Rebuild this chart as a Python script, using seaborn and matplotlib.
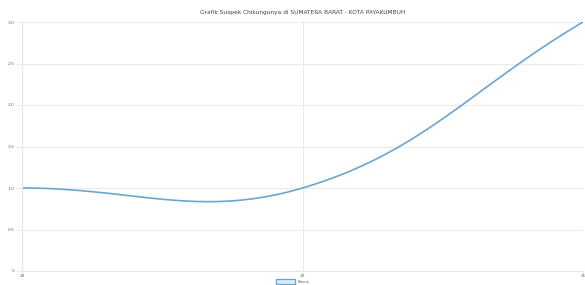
"""
Grafik suspek chikungunya - line chart with smooth (bezier) curve.
"""

import numpy as np
import pandas as pd
import matplotlib
matplotlib.use("Agg")
import matplotlib.pyplot as plt
from matplotlib.patches import Patch
import seaborn as sns

# Data
TITLE = "Grafik Suspek Chikungunya di SUMATERA BARAT - KOTA PAYAKUMBUH"
WEEKS = ["29", "30", "31"]
KASUS = [1, 1, 3]
SERIES = "Kasus"

LINE_COLOR = "#6aa6cf"
GRID_COLOR = "#e6e6e6"
TEXT_COLOR = "#666666"


def smooth_curve(xs, ys, sx, sy, tension=0.4, n=60):
    """
    bezier spline through points like a chart.js tension curve;
    sx, sy scale data units to screen units for distances
    """
    px = np.asarray(xs, float) * sx
    py = np.asarray(ys, float) * sy
    m = len(px)
    cp_prev = np.zeros((m, 2))
    cp_next = np.zeros((m, 2))
    for i in range(m):
        p = np.array([px[max(i - 1, 0)], py[max(i - 1, 0)]])
        c = np.array([px[i], py[i]])
        q = np.array([px[min(i + 1, m - 1)], py[min(i + 1, m - 1)]])
        d01 = np.hypot(*(c - p))
        d12 = np.hypot(*(q - c))
        s01 = d01 / (d01 + d12)
        s12 = d12 / (d01 + d12)
        cp_prev[i] = c - tension * s01 * (q - p)
        cp_next[i] = c + tension * s12 * (q - p)
    out_x, out_y = [], []
    t = np.linspace(0, 1, n)[:, None]
    for i in range(m - 1):
        p0 = np.array([px[i], py[i]])
        p3 = np.array([px[i + 1], py[i + 1]])
        pts = ((1 - t) ** 3 * p0 + 3 * (1 - t) ** 2 * t * cp_next[i]
               + 3 * (1 - t) * t ** 2 * cp_prev[i + 1] + t ** 3 * p3)
        out_x.extend(pts[:, 0] / sx)
        out_y.extend(pts[:, 1] / sy)
    return np.array(out_x), np.array(out_y)


sns.set_style("white")
plt.rcParams["font.family"] = ["DejaVu Sans"]

fig = plt.figure(figsize=(5.85, 2.85), dpi=100)
ax = fig.add_axes([22 / 585, 14 / 285, 561 / 585, 249 / 285])

pos = np.arange(len(WEEKS))
cx, cy = smooth_curve(pos, KASUS, sx=280.5, sy=83.0)
df = pd.DataFrame({"x": cx, "y": cy})
sns.lineplot(data=df, x="x", y="y", ax=ax, color=LINE_COLOR, lw=1.2,
             sort=False, legend=False)

ax.set_xlim(pos[0], pos[-1])
ax.set_ylim(0, 3)
ax.set_xticks(pos)
ax.set_xticklabels(WEEKS)
ax.set_yticks(np.arange(0, 3.01, 0.5))
ax.set_yticklabels(["0", "0.5", "1.0", "1.5", "2.0", "2.5", "3.0"])
ax.set_xlabel("")
ax.set_ylabel("")
ax.grid(True, color=GRID_COLOR, lw=0.6)
ax.tick_params(axis="y", labelsize=3.2, colors=GRID_COLOR, labelcolor=TEXT_COLOR,
               length=4, width=0.6, pad=1.5, left=True)
ax.tick_params(axis="x", labelsize=3.0, colors=GRID_COLOR, labelcolor=TEXT_COLOR,
               length=2, width=0.6, pad=0.5, bottom=True)
for side in ["top", "right"]:
    ax.spines[side].set_visible(False)
ax.spines["left"].set_color(GRID_COLOR)
ax.spines["bottom"].set_color(GRID_COLOR)

ax.set_title(TITLE, fontsize=4.2, color="#444444", pad=6)

handle = Patch(facecolor="#dcebf5", edgecolor=LINE_COLOR, lw=0.9, label=SERIES)
leg = fig.legend(handles=[handle], loc="center", bbox_to_anchor=(0.5, 3.2 / 285),
                 frameon=False, fontsize=3.0, handlelength=4.5, handleheight=1.4,
                 handletextpad=0.6, borderpad=0)
for text in leg.get_texts():
    text.set_color(TEXT_COLOR)

fig.savefig("out.png", dpi=100)
